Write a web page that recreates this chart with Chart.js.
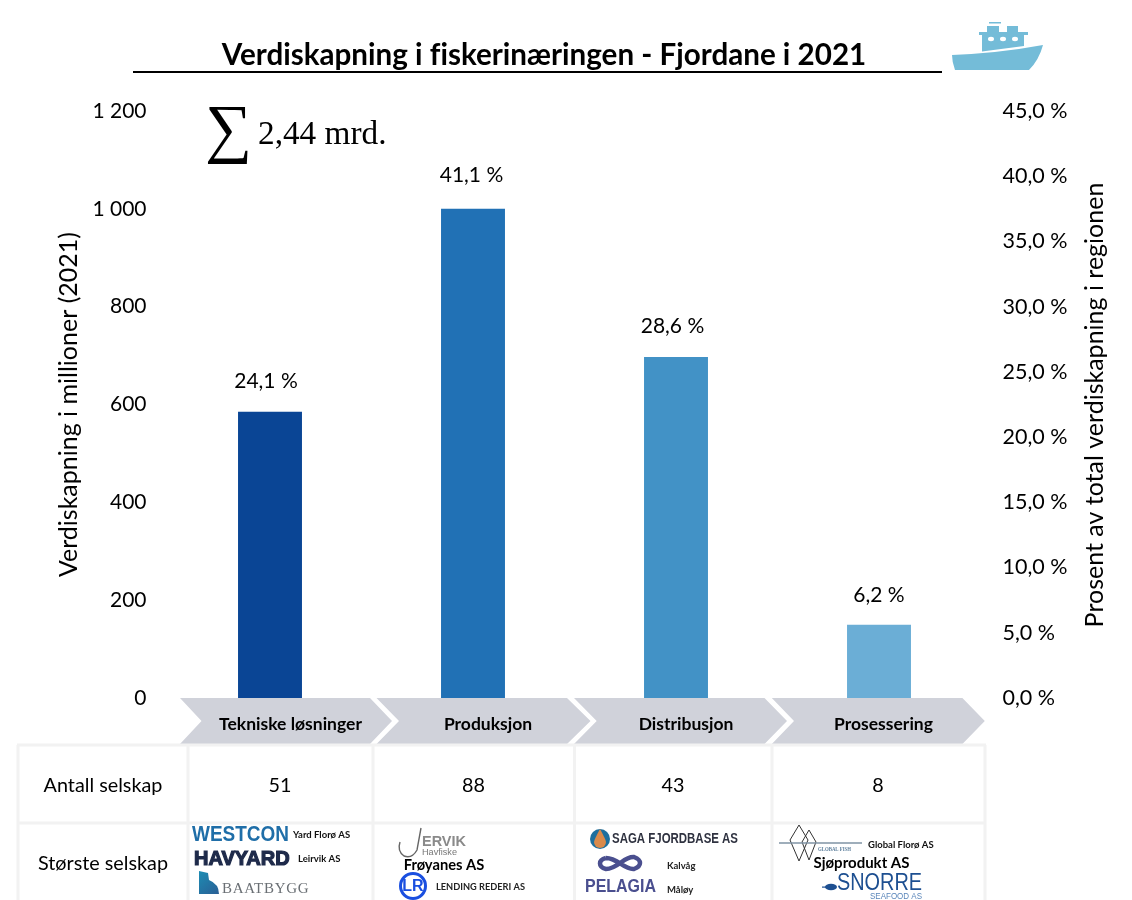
<!DOCTYPE html>
<html><head><meta charset="utf-8">
<script src="https://cdn.jsdelivr.net/npm/chart.js@4"></script>
<style>html,body{margin:0;padding:0;background:#fff}canvas{display:block}</style>
</head><body><canvas id="c" width="1132" height="900"></canvas>
<script>
const categories=["Tekniske løsninger","Produksjon","Distribusjon","Prosessering"];
const valueMillions=[585,1000,697,150];
const sharePercent=[24.1,41.1,28.6,6.2];
const companyCounts=[51,88,43,8];
const barColors=["#0a4595","#2171b5","#4292c6","#6baed6"];
const rowLabels=["Antall selskap","Største selskap"];
const titleText="Verdiskapning i fiskerinæringen - Fjordane i 2021";
const rightAxisTitle="Prosent av total verdiskapning i regionen";
const sumText="2,44 mrd.";
const FONT='Lato, sans-serif';

function txt(ctx,s,x,y,font,color,align,maxW){
  ctx.font=font;ctx.fillStyle=color;ctx.textAlign=align||'left';ctx.textBaseline='middle';
  if(maxW)ctx.fillText(s,x,y,maxW);else ctx.fillText(s,x,y);
}
function poly(ctx,pts,fill){ctx.beginPath();pts.forEach((p,i)=>i?ctx.lineTo(p[0],p[1]):ctx.moveTo(p[0],p[1]));ctx.closePath();ctx.fillStyle=fill;ctx.fill();}

function drawBoat(ctx){
  const c='#74bcd8';
  ctx.fillStyle=c;
  ctx.beginPath();ctx.moveTo(952,55);ctx.quadraticCurveTo(1000,53,1043,45);ctx.quadraticCurveTo(1039,60,1029,70);ctx.lineTo(955,70);ctx.quadraticCurveTo(952,62,952,55);ctx.fill();
  ctx.fillRect(989,22,12,1.5);
  ctx.fillRect(979,32,49,3);
  poly(ctx,[[982,35],[1024,35],[1024,46],[982,51.5]],c);
  ctx.fillRect(987,26,12,7);ctx.fillRect(1007,26,11,7);
  ctx.fillStyle='#fff';
  [991,1003,1015].forEach(x=>{ctx.beginPath();ctx.ellipse(x,39,3,2.2,0,0,7);ctx.fill();});
}
function drawChevrons(ctx){
  const ch=[[180,370,392,201.5],[376.5,567,590.5,399],[574,764.5,787,596.7],[771.8,962.4,984.8,794]];
  ch.forEach(c=>poly(ctx,[[c[0],698],[c[1],698],[c[2],721],[c[1],744],[c[0],744],[c[3],721]],'#d0d2da'));
  const lx=[290.5,488,686,883.5];
  categories.forEach((s,i)=>txt(ctx,s,lx[i],724.5,'bold 17.5px '+FONT,'#000','center'));
}
function drawTable(ctx){
  ctx.strokeStyle='#f2f2f2';ctx.lineWidth=3;ctx.beginPath();
  [745,823].forEach(y=>{ctx.moveTo(17,y);ctx.lineTo(986,y);});
  [18,188,373,574.5,772,985].forEach(x=>{ctx.moveTo(x,745);ctx.lineTo(x,900);});
  ctx.stroke();
  txt(ctx,rowLabels[0],103,786,'19.8px '+FONT,'#000','center');
  txt(ctx,rowLabels[1],103,864,'19.8px '+FONT,'#000','center');
  const cx=[280,473.5,673,878];
  companyCounts.forEach((v,i)=>txt(ctx,String(v),cx[i],786,'19.8px '+FONT,'#000','center'));
}
function drawLogos(ctx){
  const small='bold 9.5px '+FONT;
  txt(ctx,'WESTCON',192,835,'bold 22px "Liberation Sans Narrow","Liberation Sans"','#1f6ea8','left',97);
  txt(ctx,'Yard Florø AS',293,834.5,small,'#111');
  ctx.strokeStyle='#1e2a4a';ctx.lineWidth=1.2;ctx.font='bold 20px "Liberation Sans"';ctx.textAlign='left';ctx.textBaseline='middle';
  ctx.strokeText('HAVYARD',194,859,97);
  txt(ctx,'HAVYARD',194,859,'bold 20px "Liberation Sans"','#1e2a4a','left',97);
  txt(ctx,'Leirvik AS',298,858.5,small,'#111');
  const g=ctx.createLinearGradient(198,870,219,894);g.addColorStop(0,'#1c8fb5');g.addColorStop(1,'#2a5f95');
  ctx.fillStyle=g;ctx.beginPath();ctx.moveTo(199,871);ctx.lineTo(208,873);ctx.lineTo(209,880);ctx.quadraticCurveTo(219,884,219,894);ctx.lineTo(199,894);ctx.closePath();ctx.fill();
  ctx.letterSpacing='0.7px';
  txt(ctx,'BAATBYGG',222,889,'15px "Liberation Serif"','#6a6f74','left');
  ctx.letterSpacing='0px';
  ctx.strokeStyle='#666';ctx.lineWidth=1.4;ctx.beginPath();ctx.moveTo(421,828);ctx.lineTo(417,850);ctx.quadraticCurveTo(412,859,404,856);ctx.quadraticCurveTo(397,851,400,842);ctx.stroke();
  txt(ctx,'ERVIK',422,842,'bold 15px "Liberation Sans"','#8a8a8a','left',44);
  txt(ctx,'Havfiske',422,852,'9.5px "Liberation Sans"','#777','left',35);
  txt(ctx,'Frøyanes AS',444,865,'bold 14.7px '+FONT,'#000','center');
  ctx.strokeStyle='#1a4fe0';ctx.lineWidth=3;ctx.beginPath();ctx.arc(413,886,12.5,0,7);ctx.stroke();
  txt(ctx,'LR',413,886.5,'bold 16px "Liberation Sans Narrow","Liberation Sans"','#1a4fe0','center');
  txt(ctx,'LENDING REDERI AS',436,886.5,small,'#222','left',89);
  ctx.fillStyle='#1d6f9e';ctx.beginPath();ctx.arc(600,839,10,0,7);ctx.fill();
  ctx.fillStyle='#d98a4b';ctx.beginPath();ctx.moveTo(600,829);ctx.quadraticCurveTo(606,840,606,842);ctx.arc(600,842,6,0,Math.PI);ctx.quadraticCurveTo(594,840,600,829);ctx.fill();
  txt(ctx,'SAGA FJORDBASE AS',612,839,'bold 14px "Liberation Sans"','#2f3240','left',126);
  ctx.strokeStyle='#4a4f8f';ctx.lineWidth=4.5;ctx.beginPath();ctx.moveTo(606,858);ctx.bezierCurveTo(618,858,624,870,634,869);ctx.bezierCurveTo(642,866,642,860,634,857);ctx.bezierCurveTo(624,856,618,869,606,869);ctx.bezierCurveTo(598,867,598,860,606,858);ctx.stroke();
  txt(ctx,'Kalvåg',667,866,small,'#222');
  txt(ctx,'PELAGIA',585,887,'bold 18px "Liberation Sans"','#4a4f8f','left',71);
  txt(ctx,'Måløy',667,889.5,small,'#222');
  ctx.strokeStyle='#333';ctx.lineWidth=1;
  [[799,825,861,9],[809,830,860,7]].forEach(d=>{ctx.beginPath();ctx.moveTo(d[0],d[1]);ctx.lineTo(d[0]+d[3],(d[1]+d[2])/2-3);ctx.lineTo(d[0],d[2]);ctx.lineTo(d[0]-d[3],(d[1]+d[2])/2-3);ctx.closePath();ctx.stroke();});
  ctx.strokeStyle='#7f93a5';ctx.lineWidth=1.5;ctx.beginPath();ctx.moveTo(779,843);ctx.lineTo(862,843);ctx.stroke();
  txt(ctx,'GLOBAL FISH',818,849,'bold 6.5px "Liberation Sans Narrow"','#5d7f9c','left',33);
  txt(ctx,'Global Florø AS',868,845,small,'#111','left',67);
  txt(ctx,'Sjøprodukt AS',861.5,863.5,'bold 15px '+FONT,'#000','center');
  txt(ctx,'SNORRE',837,884,'23px "Liberation Sans"','#1d4f91','left',85);
  ctx.fillStyle='#1d4f91';ctx.beginPath();ctx.ellipse(831,887,6,3.2,0,0,7);ctx.fill();ctx.fillRect(822,886.5,4,1.2);
  txt(ctx,'SEAFOOD AS',870,896.5,'8.5px "Liberation Sans"','#5a86ba','left',52);
}
const labelDx=[-4,-1.5,-3.5,0];
const labelDy=[-30.5,-33.5,-30.5,-29.5];
const overlay={id:'overlay',
  afterDraw(chart){
    const ctx=chart.ctx;ctx.save();
    const x=chart.scales.x,y=chart.scales.y;
    ctx.save();ctx.textRendering='optimizeSpeed';
    txt(ctx,titleText,544,55,'bold 29.6px '+FONT,'#000','center',646);
    ctx.restore();
    ctx.fillStyle='#000';ctx.fillRect(133,71,809,2);
    drawBoat(ctx);
    txt(ctx,'∑',228.5,133,'66px "Liberation Serif"','#000','center');
    txt(ctx,sumText,258,135,'33.3px "Liberation Serif"','#000','left');
    ctx.save();ctx.translate(1095,405);ctx.rotate(-Math.PI/2);
    txt(ctx,rightAxisTitle,0,0,'25px '+FONT,'#000','center');ctx.restore();
    drawChevrons(ctx);
    drawTable(ctx);
    drawLogos(ctx);
    sharePercent.forEach((p,i)=>{
      const lab=p.toFixed(1).replace('.',',')+' %';
      txt(ctx,lab,x.getPixelForValue(i)+labelDx[i],y.getPixelForValue(valueMillions[i])+labelDy[i],'21px '+FONT,'#000','center');
    });
    ctx.restore();
  }};
new Chart(document.getElementById('c'),{
  type:'bar',
  data:{labels:categories,datasets:[{data:valueMillions,backgroundColor:barColors,borderWidth:0,barPercentage:0.315,categoryPercentage:1,yAxisID:'y'}]},
  plugins:[overlay],
  options:{responsive:false,animation:false,devicePixelRatio:1,
    layout:{padding:{top:111,bottom:202,left:0,right:0}},
    plugins:{legend:{display:false},tooltip:{enabled:false},title:{display:false}},
    scales:{
      x:{display:false,grid:{display:false}},
      y:{position:'left',min:0,max:1200,
        afterFit(s){s.width=168.5;},
        grid:{display:false},border:{display:false},
        ticks:{stepSize:200,padding:14,color:'#000',font:{family:'Lato',size:21},callback:v=>String(v).replace(/\B(?=(\d{3})+$)/g,' ')},
        title:{display:true,text:'Verdiskapning i millioner (2021)',color:'#000',font:{family:'Lato',size:25},padding:{top:54,bottom:0}}},
      y1:{position:'right',min:0,max:45,
        afterFit(s){s.width=151.5;},
        grid:{display:false},border:{display:false},
        ticks:{stepSize:5,padding:14,color:'#000',font:{family:'Lato',size:21.5},callback:v=>v.toFixed(1).replace('.',',')+' %'}}
    }}
});
</script></body></html>
